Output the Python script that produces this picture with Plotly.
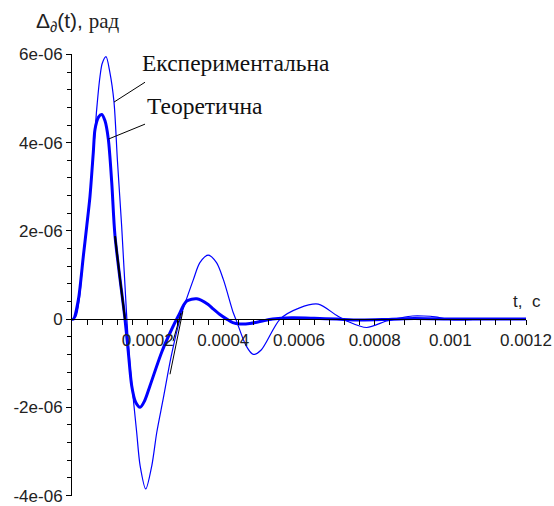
import numpy as np
import plotly.graph_objects as go

# Experimental response (thin line): time, s and angle, 1e-6 rad
t_exp = [0, 0.00001, 0.00002, 0.00003, 0.00004, 0.00005, 0.00006, 0.0000653,
         0.000074, 0.00008, 0.00009, 0.0001, 0.000111, 0.00012, 0.0001313,
         0.000145, 0.000153, 0.000162, 0.000171, 0.00018, 0.000195, 0.000211,
         0.000224, 0.000241, 0.000262, 0.0002855, 0.000321, 0.000338, 0.00036,
         0.000382, 0.0004, 0.000426, 0.000433, 0.00046, 0.000479, 0.0005,
         0.00055, 0.0006, 0.000651, 0.0007, 0.000726, 0.000779, 0.000832,
         0.00087, 0.0009, 0.00093, 0.00096, 0.00099, 0.00103, 0.00108,
         0.00114, 0.0012]
v_exp = [0, 0.05, 0.5, 1.45, 2.2, 3.05, 4.15, 4.76,
         5.5, 5.8, 5.95, 5.6, 4.92, 3.6, 2.1,
         0.0, -1.0, -1.81, -2.57, -3.32, -3.85, -3.32,
         -2.57, -1.81, -0.85, 0.0, 0.9, 1.28, 1.45,
         1.28, 0.9, 0.15, 0.0, -0.6, -0.8, -0.7,
         0.0, 0.25, 0.34, 0.08, -0.04, -0.19, -0.04,
         0.03, 0.07, 0.07, 0.05, 0.0, -0.02, 0.0,
         0.01, 0.0]

# Theoretical response (thick line)
t_theo = [0, 0.000004, 0.000017, 0.00003, 0.000039, 0.0000476, 0.0000563,
          0.0000608, 0.00007, 0.0000785, 0.000087, 0.000096, 0.000105,
          0.0001137, 0.00014, 0.0001488, 0.0001578, 0.000168, 0.00018,
          0.000192, 0.0002062, 0.000237, 0.0002635, 0.000281, 0.0003032,
          0.00033, 0.00036, 0.000373, 0.00039, 0.000409, 0.000425, 0.000444,
          0.00047, 0.0005, 0.00053, 0.00058, 0.00064, 0.0007, 0.00076,
          0.00082, 0.00088, 0.00094, 0.001, 0.0012]
v_theo = [0, 0.0, 0.45, 1.43, 2.11, 2.79, 3.78,
          4.3, 4.58, 4.64, 4.5, 4.08, 3.1,
          1.88, 0.0, -0.75, -1.51, -1.88, -2.0,
          -1.85, -1.51, -0.75, -0.23, 0.07, 0.41,
          0.46, 0.33, 0.23, 0.11, 0.0, -0.08, -0.11,
          -0.1, -0.05, 0.0, 0.03, 0.02, 0.0, -0.02,
          -0.01, 0.01, 0.01, 0.0, 0.0]

# Dark auxiliary strokes near the first zero crossings
t_dark_a = [0.0001137, 0.000127, 0.00014]
v_dark_a = [1.88, 0.9, 0.0]
t_dark_b = [0.000259, 0.000293]
v_dark_b = [-1.25, 0.18]
t_dark_c = [0.000267, 0.000288]
v_dark_c = [-0.5, 0.14]

x_ticks = [0.0002, 0.0004, 0.0006, 0.0008, 0.001, 0.0012]
x_labels = ["0.0002", "0.0004", "0.0006", "0.0008", "0.001", "0.0012"]
y_ticks = [-4e-6, -2e-6, 0, 2e-6, 4e-6, 6e-6]
y_labels = ["-4e-06", "-2e-06", "0", "2e-06", "4e-06", "6e-06"]

SCALE = 1e-6
BLUE = "#0000FF"
SANS = "Liberation Sans, Arial, sans-serif"
SERIF = "Liberation Serif, Times New Roman, serif"

fig = go.Figure()
fig.add_trace(go.Scatter(x=t_exp, y=[v * SCALE for v in v_exp], mode="lines",
                         line=dict(color=BLUE, width=1.2, shape="spline", smoothing=0.8)))
fig.add_trace(go.Scatter(x=t_theo, y=[v * SCALE for v in v_theo], mode="lines",
                         line=dict(color=BLUE, width=3, shape="spline", smoothing=0.8)))
for tt, vv, w in [(t_dark_a, v_dark_a, 2), (t_dark_b, v_dark_b, 1), (t_dark_c, v_dark_c, 1)]:
    fig.add_trace(go.Scatter(x=tt, y=[v * SCALE for v in vv], mode="lines",
                             line=dict(color="black", width=w, shape="spline")))

minor_x = [v for v in np.arange(0.00004, 0.0012 + 1e-9, 0.00004)]
minor_y = [v for v in np.arange(-4e-6, 6e-6 + 1e-12, 4e-7)]

fig.update_layout(
    width=554, height=506,
    margin=dict(l=72, r=28, t=54, b=10),
    paper_bgcolor="white", plot_bgcolor="white",
    showlegend=False,
    font=dict(family=SANS, size=17, color="#222"),
    xaxis=dict(range=[0, 0.0012], anchor="free", position=0.4,
               automargin=False,
               showline=True, linecolor="black", linewidth=1,
               showgrid=False, zeroline=False,
               tickmode="array", tickvals=x_ticks, ticktext=x_labels,
               ticks="outside", ticklen=5, tickcolor="black",
               minor=dict(tickmode="array", tickvals=minor_x, ticks="outside",
                          ticklen=5, tickcolor="black", showgrid=False),
               ticklabeloverflow="allow",
               tickfont=dict(family=SANS, size=17, color="#222")),
    yaxis=dict(range=[-4.01e-6, 6.01e-6],
               automargin=False,
               showline=True, linecolor="black", linewidth=1,
               showgrid=False, zeroline=False,
               tickmode="array", tickvals=y_ticks, ticktext=y_labels,
               ticks="outside", ticklen=5, tickcolor="black",
               minor=dict(tickmode="array", tickvals=minor_y, ticks="outside",
                          ticklen=4, tickcolor="black", showgrid=False),
               ticklabeloverflow="allow",
               tickfont=dict(family=SANS, size=17, color="#222")),
)

# Leader lines from the curve names to the curves
fig.add_shape(type="line", xref="x", yref="y", x0=0.000193, y0=5.37e-6,
              x1=0.000111, y1=4.92e-6, line=dict(color="black", width=1))
fig.add_shape(type="line", xref="x", yref="y", x0=0.000193, y0=4.42e-6,
              x1=0.000096, y1=4.08e-6, line=dict(color="black", width=1))

fig.add_annotation(x=0.0001797, y=5.8e-6, xref="x", yref="y", text="Експериментальна",
                   showarrow=False, xanchor="left", yanchor="middle",
                   font=dict(family=SERIF, size=23.5, color="#111"))
fig.add_annotation(x=0.000193, y=4.84e-6, xref="x", yref="y", text="Теоретична",
                   showarrow=False, xanchor="left", yanchor="middle",
                   font=dict(family=SERIF, size=23.5, color="#111"))

# Axis titles
fig.add_annotation(x=-0.084, y=1.072, xref="paper", yref="paper",
                   text="Δ<sub>∂</sub>(t), <span style=\"font-family:Liberation Serif\">рад</span>",
                   showarrow=False, xanchor="left", yanchor="middle",
                   font=dict(family=SANS, size=21, color="#222"))
fig.add_annotation(x=1.003, y=0.41e-6, xref="paper", yref="y", text="t,  c",
                   showarrow=False, xanchor="center", yanchor="middle",
                   font=dict(family=SANS, size=17, color="#222"))

fig.write_html("out.html")
